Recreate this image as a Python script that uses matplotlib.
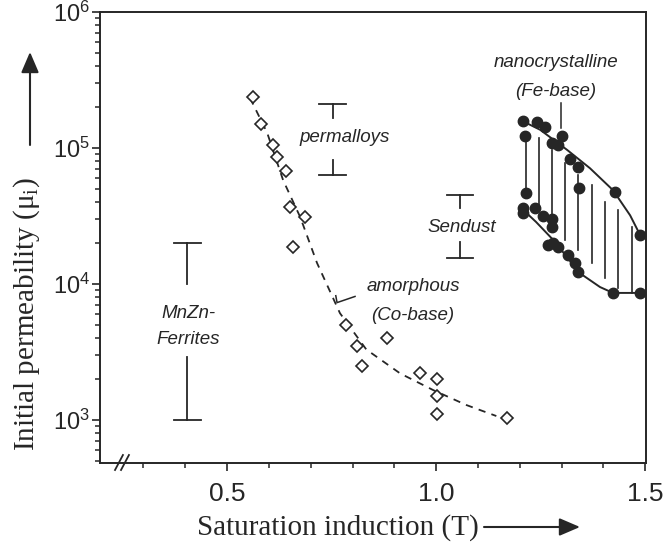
import numpy as np
import matplotlib
matplotlib.use('Agg')
import matplotlib.pyplot as plt
from matplotlib.ticker import FixedLocator, LogLocator, NullFormatter

plt.rcParams['font.family'] = ['Liberation Sans', 'DejaVu Sans']

INK = '#262626'

# ---------------- data ----------------
# amorphous (Co-base) measured points
amorph_x = [0.562, 0.581, 0.610, 0.620, 0.641, 0.651, 0.687, 0.658, 0.785, 0.811,
            0.823, 0.883, 0.962, 1.002, 1.002, 1.002, 1.170]
amorph_y = [2.37e5, 1.5e5, 1.05e5, 8.6e4, 6.8e4, 3.7e4, 3.1e4, 1.87e4, 5.0e3, 3.5e3,
            2.5e3, 4.0e3, 2.2e3, 2.0e3, 1.5e3, 1.1e3, 1.03e3]
# dashed trend through amorphous points
amorph_fit_x = [0.555, 0.596, 0.634, 0.675, 0.715, 0.770, 0.833, 0.914, 0.993, 1.072, 1.144]
amorph_fit_y = [2.33e5, 1.29e5, 5.8e4, 3.1e4, 1.43e4, 6.1e3, 3.3e3, 2.2e3, 1.66e3, 1.29e3, 1.07e3]

# nanocrystalline (Fe-base) measured points
nano_x = [1.208, 1.242, 1.261, 1.213, 1.301, 1.278, 1.292, 1.321, 1.340, 1.342, 1.428, 1.488,
          1.215, 1.208, 1.208, 1.237, 1.256, 1.278, 1.278, 1.280, 1.268, 1.292, 1.316, 1.333,
          1.340, 1.423, 1.488]
nano_y = [1.58e5, 1.55e5, 1.43e5, 1.22e5, 1.22e5, 1.09e5, 1.05e5, 8.3e4, 7.2e4, 5.1e4, 4.75e4, 2.29e4,
          4.67e4, 3.62e4, 3.33e4, 3.62e4, 3.16e4, 3.0e4, 2.63e4, 2.0e4, 1.94e4, 1.87e4, 1.63e4, 1.43e4,
          1.22e4, 8.6e3, 8.6e3]
# envelope curves
nano_upper_x = [1.201, 1.249, 1.313, 1.368, 1.423, 1.464, 1.488]
nano_upper_y = [1.61e5, 1.36e5, 9.7e4, 7.1e4, 4.9e4, 3.2e4, 2.29e4]
nano_lower_x = [1.201, 1.239, 1.280, 1.344, 1.392, 1.423, 1.488]
nano_lower_y = [3.68e4, 2.86e4, 2.11e4, 1.2e4, 9.5e3, 8.6e3, 8.6e3]
# hatch lines between envelopes
hatch_x = [1.215, 1.246, 1.278, 1.309, 1.340, 1.373, 1.404, 1.435, 1.469]
hatch_top = [1.22e5, 1.19e5, 9.7e4, 7.8e4, 6.3e4, 5.35e4, 4.0e4, 3.5e4, 2.62e4]
hatch_bot = [4.67e4, 3.5e4, 3.2e4, 2.11e4, 1.78e4, 1.43e4, 1.11e4, 9.35e3, 8.6e3]

# range bars: MnZn-Ferrites, permalloys, Sendust
range_names = ['MnZn', 'permalloys', 'Sendust']
range_x = [0.405, 0.753, 1.057]
range_low = [1.0e3, 6.3e4, 1.55e4]
range_high = [2.0e4, 2.1e5, 4.5e4]
range_gap_top = [1.0e4, 1.66e5, 3.6e4]     # upper stem ends here
range_gap_bot = [2.9e3, 8.1e4, 2.04e4]     # lower stem starts here

x_major = [0.5, 1.0, 1.5]
x_major_labels = ['0.5', '1.0', '1.5']
x_minor = [0.3, 0.4, 0.6, 0.7, 0.8, 0.9, 1.1, 1.2, 1.3, 1.4]
y_major = [1e3, 1e4, 1e5, 1e6]

# ---------------- figure ----------------
W, H = 667, 546
fig = plt.figure(figsize=(W / 100, H / 100), dpi=100)
ax = fig.add_axes([100 / W, 1 - 463 / H, 546 / W, 451 / H])

ax.set_yscale('log')
ax.set_xlim(0.196, 1.502)
ax.set_ylim(483, 1e6)

# amorphous
ax.plot(amorph_fit_x, amorph_fit_y, ls=(0, (4, 3.5)), color=INK, lw=1.3)
ax.plot(amorph_x, amorph_y, ls='none', marker='D', ms=6.5, mfc='white', mec=INK, mew=1.2, zorder=3)

# nanocrystalline
for hx, ht, hb in zip(hatch_x, hatch_top, hatch_bot):
    ax.plot([hx, hx], [hb, ht], color=INK, lw=1.2)
ax.plot(nano_upper_x, nano_upper_y, color=INK, lw=1.4)
ax.plot(nano_lower_x, nano_lower_y, color=INK, lw=1.4)
ax.plot(nano_x, nano_y, ls='none', marker='o', ms=7.5, color=INK, zorder=3)

# range bars
cap = 0.032
for rx, lo, hi, gt, gb in zip(range_x, range_low, range_high, range_gap_top, range_gap_bot):
    ax.plot([rx, rx], [gt, hi], color=INK, lw=1.3)
    ax.plot([rx, rx], [lo, gb], color=INK, lw=1.3)
    ax.plot([rx - cap, rx + cap], [hi, hi], color=INK, lw=1.3)
    ax.plot([rx - cap, rx + cap], [lo, lo], color=INK, lw=1.3)

# annotations
tkw = dict(fontsize=13.5, style='italic', color=INK, ha='center', va='center')
ax.text(0.407, 6.1e3, 'MnZn-', **tkw)
ax.text(0.407, 3.9e3, 'Ferrites', **tkw)
ax.text(0.782, 1.19e5, 'permalloys', **tkw)
ax.text(1.062, 2.62e4, 'Sendust', **tkw)
ax.text(0.945, 9.66e3, 'amorphous', **tkw)
ax.text(0.945, 5.9e3, '(Co-base)', **tkw)
ax.text(1.287, 4.22e5, 'nanocrystalline', **tkw)
ax.text(1.287, 2.62e5, '(Fe-base)', **tkw)

# leaders
ax.plot([1.299, 1.299], [1.4e5, 2.14e5], color=INK, lw=1.1)
ax.plot([0.760, 0.763, 0.806], [8.2e3, 7.3e3, 8.1e3], color=INK, lw=1.1)

# axes styling
for s in ax.spines.values():
    s.set_linewidth(1.4)
    s.set_color(INK)

ax.xaxis.set_major_locator(FixedLocator(x_major))
ax.set_xticklabels(x_major_labels)
ax.xaxis.set_minor_locator(FixedLocator(x_minor))
ax.yaxis.set_major_locator(FixedLocator(y_major))
ax.yaxis.set_minor_locator(LogLocator(base=10, subs=np.arange(2, 10)))
ax.yaxis.set_minor_formatter(NullFormatter())

ax.tick_params(axis='both', which='major', direction='out', length=6, width=1.2, color=INK,
               labelcolor=INK)
ax.tick_params(axis='both', which='minor', direction='out', length=3.5, width=1.1, color=INK)
ax.tick_params(axis='x', which='major', labelsize=19, pad=8)
ax.tick_params(axis='y', which='major', labelsize=17, pad=1)

# axis break marks
for dx in (0.0, 0.011):
    ax.plot([0.0275 + dx, 0.042 + dx], [-0.0155, 0.0177], transform=ax.transAxes,
            color=INK, lw=1.3, clip_on=False)

# axis titles (serif) with arrows
fig.text(27 / W, 1 - 314 / H, 'Initial permeability (μ$_{\\mathdefault{i}}$)',
         rotation=90, ha='center', va='center', fontsize=21,
         family=['Liberation Serif', 'DejaVu Serif'], color=INK)
fig.text(338 / W, 1 - 528 / H, 'Saturation induction (T)', ha='center', va='center',
         fontsize=21, family=['Liberation Serif', 'DejaVu Serif'], color=INK)

akw = dict(arrowstyle='-|>,head_length=0.7,head_width=0.3', lw=1.5, color=INK,
           mutation_scale=18, shrinkA=0, shrinkB=0)
ax.annotate('', xy=(30 / W, 1 - 52 / H), xytext=(30 / W, 1 - 145 / H),
            xycoords='figure fraction', textcoords='figure fraction', arrowprops=akw)
ax.annotate('', xy=(580 / W, 1 - 527 / H), xytext=(484 / W, 1 - 527 / H),
            xycoords='figure fraction', textcoords='figure fraction', arrowprops=akw)

fig.savefig('out.png', dpi=100, facecolor='white')
